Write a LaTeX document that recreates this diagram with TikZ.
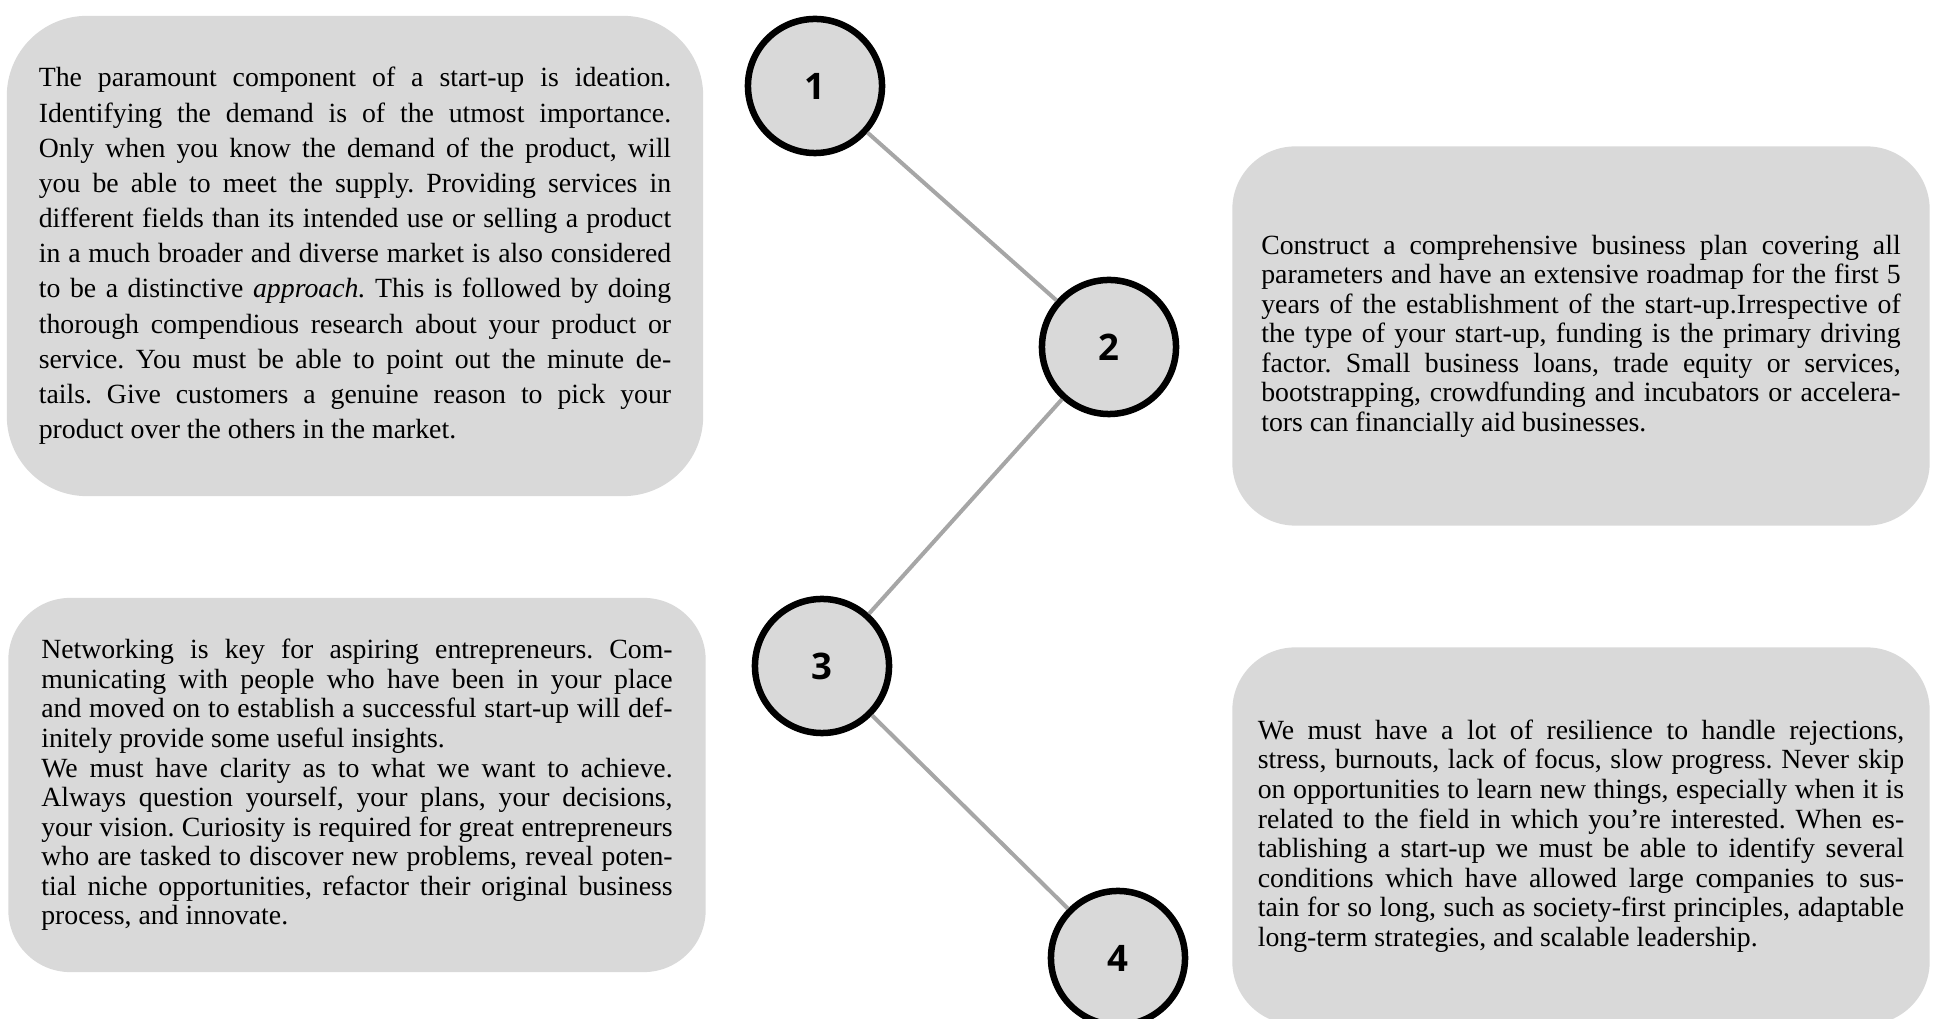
\documentclass[tikz,border=0pt]{standalone}
\usepackage{fontspec}
\setmainfont{Liberation Serif}
\newfontfamily\numfont{Open Sans}
\usepackage{tikz}
\usetikzlibrary{shapes,positioning}
\frenchspacing
\definecolor{boxgray}{HTML}{D9D9D9}
\definecolor{linegray}{HTML}{A6A6A6}
\tikzstyle{greybox}=[rectangle, fill=boxgray, align=justify, inner sep=0pt, font=\fontsize{7.9}{8.4}\selectfont]
\tikzstyle{numcircle}=[circle, draw=black, fill=boxgray, line width=0.065cm, minimum size=1.34cm, inner sep=0pt, font=\numfont\bfseries\fontsize{10.4}{12}\selectfont]
\tikzstyle{link}=[draw=linegray, line width=0.04cm]

\begin{document}
\begin{tikzpicture}[x=0.01cm, y=-0.01cm]
\useasboundingbox (0,0) rectangle (1959,1019);

\node[greybox, minimum width=6.96cm, minimum height=4.8cm, rounded corners=0.8cm, text width=6.32cm, font=\fontsize{7.9}{10}\selectfont] (box1) at (355,256) {The paramount component of a start-up is ideation. \linebreak Identifying the demand is of the utmost importance. \linebreak Only when you know the demand of the product, will \linebreak you be able to meet the supply. Providing services in \linebreak different fields than its intended use or selling a product \linebreak in a much broader and diverse market is also considered \linebreak to be a distinctive \textit{approach.} This is followed by doing \linebreak thorough compendious research about your product or \linebreak service. You must be able to point out the minute de-\linebreak tails. Give customers a genuine reason to pick your \linebreak product over the others in the market.};
\node[greybox, minimum width=6.97cm, minimum height=3.79cm, rounded corners=0.63cm, text width=6.39cm] (box2) at (1581,336) {Construct a comprehensive business plan covering all \linebreak parameters and have an extensive roadmap for the first 5 \linebreak years of the establishment of the start-up.Irrespective of \linebreak the type of your start-up, funding is the primary driving \linebreak factor. Small business loans, trade equity or services, \linebreak bootstrapping, crowdfunding and incubators or accelera-\linebreak tors can financially aid businesses.};
\node[greybox, minimum width=6.97cm, minimum height=3.74cm, rounded corners=0.62cm, text width=6.31cm] (box3) at (357,785) {Networking is key for aspiring entrepreneurs. Com-\linebreak municating with people who have been in your place \linebreak and moved on to establish a successful start-up will def-\linebreak initely provide some useful insights.\\ We must have clarity as to what we want to achieve. \linebreak Always question yourself, your plans, your decisions, \linebreak your vision. Curiosity is required for great entrepreneurs \linebreak who are tasked to discover new problems, reveal poten-\linebreak tial niche opportunities, refactor their original business \linebreak process, and innovate.};
\node[greybox, minimum width=6.97cm, minimum height=3.77cm, rounded corners=0.63cm, text width=6.46cm] (box4) at (1581,836) {We must have a lot of resilience to handle rejections, \linebreak stress, burnouts, lack of focus, slow progress. Never skip \linebreak on opportunities to learn new things, especially when it is \linebreak related to the field in which you’re interested. When es-\linebreak tablishing a start-up we must be able to identify several \linebreak conditions which have allowed large companies to sus-\linebreak tain for so long, such as society-first principles, adaptable \linebreak long-term strategies, and scalable leadership.};

\node[numcircle] (num1) at (815,86) {1};
\node[numcircle] (num2) at (1109,347) {2};
\node[numcircle] (num3) at (822,666) {3};
\node[numcircle] (num4) at (1118,958) {4};

\draw[link] (num1) -- (num2);
\draw[link] (num2) -- (num3);
\draw[link] (num3) -- (num4);

\end{tikzpicture}
\end{document}
